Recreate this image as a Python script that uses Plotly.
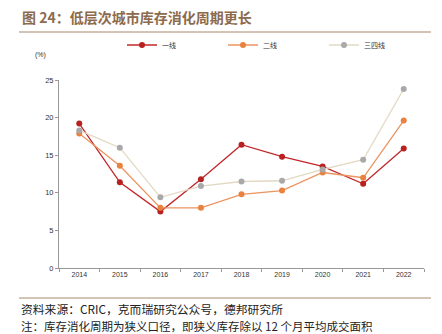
import plotly.graph_objects as go

years = ["2014", "2015", "2016", "2017", "2018", "2019", "2020", "2021", "2022"]
tier1 = [19.2, 11.4, 7.5, 11.8, 16.4, 14.8, 13.5, 11.2, 15.9]
tier2 = [17.9, 13.6, 8.0, 8.0, 9.8, 10.3, 12.7, 12.0, 19.6]
tier34 = [18.3, 16.0, 9.4, 10.9, 11.5, 11.6, 13.1, 14.4, 23.8]
names = ["一线", "二线", "三四线"]
yticks = [0, 5, 10, 15, 20, 25]

FONT = "Liberation Sans, Noto Sans CJK SC, sans-serif"
CJK = "Noto Sans CJK SC, sans-serif"

fig = go.Figure()
fig.add_trace(go.Scatter(x=years, y=tier1, name=names[0], mode="lines+markers",
                         line=dict(color="#C0282A", width=1.3),
                         marker=dict(color="#B8211F", size=6)))
fig.add_trace(go.Scatter(x=years, y=tier2, name=names[1], mode="lines+markers",
                         line=dict(color="#EB9460", width=1.3),
                         marker=dict(color="#E8823E", size=6)))
fig.add_trace(go.Scatter(x=years, y=tier34, name=names[2], mode="lines+markers",
                         line=dict(color="#E3D8C3", width=1.3),
                         marker=dict(color="#A9A9A9", size=6)))

fig.update_layout(
    width=442, height=334,
    margin=dict(l=59, r=18, t=80, b=66),
    paper_bgcolor="white", plot_bgcolor="white",
    font=dict(family=FONT, size=7, color="#333333"),
    showlegend=True,
    legend=dict(orientation="h", x=(122-59)/365, xanchor="left",
                y=(268-45)/188, yanchor="middle", bgcolor="rgba(0,0,0,0)",
                font=dict(family=CJK, size=7, color="#333"),
                entrywidth=56, entrywidthmode="pixels", itemwidth=30,
                tracegroupgap=0),
    xaxis=dict(type="category", range=[-0.5, 8.5], showline=True, linecolor="#999999",
               linewidth=1, ticks="outside", tickson="boundaries", ticklen=3,
               tickcolor="#999999", showgrid=False, tickfont=dict(size=7, color="#333")),
    yaxis=dict(range=[0, 25], tickvals=yticks, showline=True, linecolor="#999999",
               linewidth=1, ticks="outside", ticklen=3, tickcolor="#999999",
               showgrid=False, zeroline=False, tickfont=dict(size=7.5, color="#333")),
)

fig.add_annotation(text="<b>图 24：低层次城市库存消化周期更长</b>", xref="paper", yref="paper",
                   x=-39/365, xanchor="left", y=(268-17)/188, yanchor="middle",
                   showarrow=False,
                   font=dict(family=CJK, size=14, color="#8C6A4E"))
fig.add_annotation(text="(%)", xref="paper", yref="paper", x=-19/365, xanchor="center",
                   y=(268-55)/188, yanchor="middle", showarrow=False,
                   font=dict(size=7, color="#333"))
fig.add_shape(type="line", xref="paper", yref="paper", x0=-40/365, x1=372/365,
              y0=(268-32)/188, y1=(268-32)/188, line=dict(color="#A88A6D", width=1.2))
fig.add_shape(type="line", xref="paper", yref="paper", x0=-40/365, x1=372/365,
              y0=(268-298)/188, y1=(268-298)/188, line=dict(color="#A88A6D", width=1.2))
fig.add_annotation(text="资料来源：CRIC，克而瑞研究公众号，德邦研究所", xref="paper", yref="paper",
                   x=-40/365, xanchor="left", y=(268-308)/188, yanchor="middle",
                   showarrow=False, font=dict(family=CJK, size=11.8, color="#222"))
fig.add_annotation(text="注：库存消化周期为狭义口径，即狭义库存除以 12 个月平均成交面积", xref="paper", yref="paper",
                   x=-40/365, xanchor="left", y=(268-326)/188, yanchor="middle",
                   showarrow=False, font=dict(family=CJK, size=11.5, color="#222"))

fig.write_html("out.html")
